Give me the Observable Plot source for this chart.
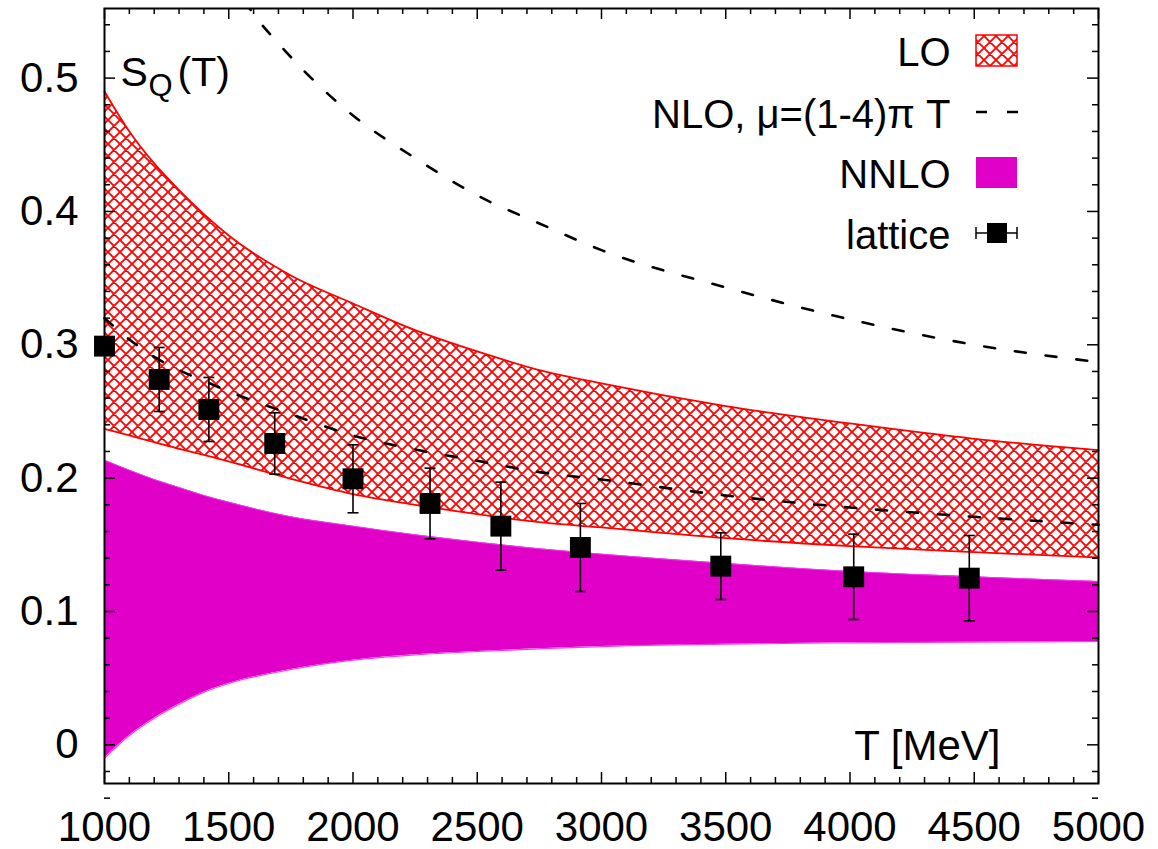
<!DOCTYPE html>
<html>
<head>
<meta charset="utf-8">
<script src="https://cdn.jsdelivr.net/npm/d3@7"></script>
<script src="https://cdn.jsdelivr.net/npm/@observablehq/plot@0.6"></script>
<style>
  html, body { margin: 0; padding: 0; background: white; }
  #chart { width: 1158px; height: 849px; }
</style>
</head>
<body>
<div id="chart"></div>
<script>
// ---------- data ----------
// common T grid (MeV) for the bands and the lower NLO curve
const T_grid   = [1000, 1100, 1200, 1300, 1400, 1500, 1750, 2000, 2250, 2500, 2750, 3000, 3500, 4000, 4500, 5000];
// LO band (hatched red)
const LO_upper = [0.490, 0.460, 0.436, 0.416, 0.398, 0.382, 0.352, 0.331, 0.311, 0.295, 0.281, 0.271, 0.254, 0.241, 0.2295, 0.221];
const LO_lower = [0.237, 0.232, 0.227, 0.222, 0.2175, 0.2125, 0.1995, 0.188, 0.180, 0.173, 0.167, 0.163, 0.155, 0.149, 0.1445, 0.1405];
// NNLO band (magenta)
const NNLO_upper = [0.2135, 0.206, 0.199, 0.193, 0.187, 0.182, 0.171, 0.164, 0.1575, 0.152, 0.147, 0.143, 0.136, 0.130, 0.126, 0.1225];
const NNLO_lower = [-0.010, 0.007, 0.020, 0.0305, 0.0395, 0.046, 0.0565, 0.0635, 0.0675, 0.070, 0.072, 0.0737, 0.0755, 0.0765, 0.077, 0.0775];
// NLO, lower scale curve, on T_grid
const NLO_low = [0.320, 0.304, 0.291, 0.281, 0.273, 0.265, 0.248, 0.232, 0.2215, 0.213, 0.2045, 0.199, 0.187, 0.178, 0.171, 0.165];
// NLO, upper scale curve
const T_NLO_high = [1500, 1600, 1700, 1800, 1900, 2000, 2250, 2500, 2750, 3000, 3500, 4000, 4500, 5000];
const NLO_high   = [0.578, 0.548, 0.526, 0.506, 0.488, 0.472, 0.440, 0.412, 0.391, 0.371, 0.343, 0.319, 0.300, 0.287];
// lattice points
const T_lat   = [1000, 1220, 1420, 1685, 2000, 2310, 2595, 2915, 3480, 4015, 4480];
const S_lat   = [0.299, 0.274, 0.2515, 0.226, 0.1995, 0.181, 0.164, 0.148, 0.134, 0.126, 0.125];
const S_err   = [0.006, 0.024, 0.024, 0.023, 0.0255, 0.0265, 0.033, 0.033, 0.025, 0.032, 0.032];
// ticks
const xMajor = [1000, 1500, 2000, 2500, 3000, 3500, 4000, 4500, 5000];
const xMinor = d3.range(1000, 5001, 100).filter(v => v % 500 !== 0);
const yMajor = [0, 0.1, 0.2, 0.3, 0.4, 0.5];
const yMinor = d3.range(-2, 28).map(i => i * 0.02).filter(v => Math.abs(v * 10 - Math.round(v * 10)) > 1e-6);
// legend
const legendLabels = ["LO", "NLO, \u03bc=(1-4)\u03c0 T", "NNLO", "lattice"];

// ---------- tables ----------
const bands = T_grid.map((T, i) => ({T, loHi: LO_upper[i], loLo: LO_lower[i], nHi: NNLO_upper[i], nLo: NNLO_lower[i], nlo: NLO_low[i]}));
const nloHigh = T_NLO_high.map((T, i) => ({T, s: NLO_high[i]}));
const lattice = T_lat.map((T, i) => ({T, s: S_lat[i], lo: S_lat[i] - S_err[i], hi: S_lat[i] + S_err[i]}));

// ---------- layout ----------
const W = 1158, H = 849, mL = 104, mR = 60, mT = 8, mB = 66;
const pw = W - mL - mR, ph = H - mT - mB;
const RED = "#ff0000", MAG = "#e000c8", MAG_EDGE = "#f23cf0";
const HP = 12; // hatch period in px

const capSymbol = { draw(ctx) { ctx.moveTo(-5.5, 0); ctx.lineTo(5.5, 0); } };

const chart = Plot.plot({
  width: W, height: H,
  marginLeft: mL, marginRight: mR, marginTop: mT, marginBottom: mB,
  style: { fontFamily: "'Liberation Sans', Arial, Helvetica, sans-serif", fontSize: "42px", background: "white", color: "black", overflow: "visible" },
  x: { domain: [1000, 5000] },
  y: { domain: [-0.029, 0.5522] },
  marks: [
    // NNLO band
    Plot.areaY(bands, { x: "T", y1: "nLo", y2: "nHi", fill: MAG, curve: "monotone-x" }),
    Plot.line(bands, { x: "T", y: "nHi", stroke: MAG_EDGE, strokeWidth: 1, curve: "monotone-x" }),
    Plot.line(bands, { x: "T", y: "nLo", stroke: MAG_EDGE, strokeWidth: 1.2, curve: "monotone-x" }),
    // LO band
    Plot.areaY(bands, { x: "T", y1: "loLo", y2: "loHi", fill: "url(#lohatch)", curve: "monotone-x" }),
    Plot.line(bands, { x: "T", y: "loHi", stroke: RED, strokeWidth: 1.8, curve: "monotone-x" }),
    Plot.line(bands, { x: "T", y: "loLo", stroke: RED, strokeWidth: 1.8, curve: "monotone-x" }),
    // NLO curves
    Plot.line(nloHigh, { x: "T", y: "s", stroke: "black", strokeWidth: 2.6, strokeDasharray: "11,20", curve: "monotone-x", clip: true }),
    Plot.line(bands, { x: "T", y: "nlo", stroke: "black", strokeWidth: 2.6, strokeDasharray: "11,20", curve: "monotone-x" }),
    // lattice
    Plot.ruleX(lattice, { x: "T", y1: "lo", y2: "hi", stroke: "black", strokeWidth: 1.6 }),
    Plot.dot(lattice, { x: "T", y: "lo", symbol: capSymbol, r: 4, fill: "none", stroke: "black", strokeWidth: 1.6 }),
    Plot.dot(lattice, { x: "T", y: "hi", symbol: capSymbol, r: 4, fill: "none", stroke: "black", strokeWidth: 1.6 }),
    Plot.dot(lattice, { x: "T", y: "s", symbol: "square", r: 11.8, fill: "black", stroke: "none" }),
    // inward ticks
    Plot.tickY(yMajor, { y: d => d, insetRight: pw - 11, stroke: "black", strokeWidth: 1.5 }),
    Plot.tickY(yMinor, { y: d => d, insetRight: pw - 6, stroke: "black", strokeWidth: 1.5 }),
    Plot.tickY(yMajor, { y: d => d, insetLeft: pw - 11, stroke: "black", strokeWidth: 1.5 }),
    Plot.tickY(yMinor, { y: d => d, insetLeft: pw - 6, stroke: "black", strokeWidth: 1.5 }),
    Plot.tickX(xMajor, { x: d => d, insetTop: ph - 11, stroke: "black", strokeWidth: 1.5 }),
    Plot.tickX(xMinor, { x: d => d, insetTop: ph - 6, stroke: "black", strokeWidth: 1.5 }),
    Plot.tickX(xMajor, { x: d => d, insetBottom: ph - 11, stroke: "black", strokeWidth: 1.5 }),
    Plot.tickX(xMinor, { x: d => d, insetBottom: ph - 6, stroke: "black", strokeWidth: 1.5 }),
    // axes labels
    Plot.axisX(xMajor, { tickSize: 0, tickPadding: 28, fontSize: 42, tickFormat: d => String(d), label: null }),
    Plot.axisY(yMajor, { tickSize: 0, tickPadding: 26, fontSize: 42, tickFormat: d => (d === 0 ? "0" : d.toFixed(1)), label: null }),
    // annotation texts
    Plot.text(["S"], { text: d => d, frameAnchor: "top-left", dx: 16, dy: 77, textAnchor: "start", lineAnchor: "bottom", fontSize: 41 }),
    Plot.text(["Q"], { text: d => d, frameAnchor: "top-left", dx: 44, dy: 87, textAnchor: "start", lineAnchor: "bottom", fontSize: 31 }),
    Plot.text(["(T)"], { text: d => d, frameAnchor: "top-left", dx: 73, dy: 77, textAnchor: "start", lineAnchor: "bottom", fontSize: 41 }),
    Plot.text(["T [MeV]"], { text: d => d, frameAnchor: "bottom-right", dx: -98, dy: -24, textAnchor: "end", lineAnchor: "bottom", fontSize: 42 }),
    // legend labels
    Plot.text([legendLabels[0]], { text: d => d, frameAnchor: "top-right", dx: -148, dy: 57, textAnchor: "end", lineAnchor: "bottom", fontSize: 40 }),
    Plot.text([legendLabels[1]], { text: d => d, frameAnchor: "top-right", dx: -148, dy: 119, textAnchor: "end", lineAnchor: "bottom", fontSize: 40 }),
    Plot.text([legendLabels[2]], { text: d => d, frameAnchor: "top-right", dx: -148, dy: 179, textAnchor: "end", lineAnchor: "bottom", fontSize: 40 }),
    Plot.text([legendLabels[3]], { text: d => d, frameAnchor: "top-right", dx: -148, dy: 240, textAnchor: "end", lineAnchor: "bottom", fontSize: 40 }),
    Plot.frame({ stroke: "black", strokeWidth: 2 })
  ]
});

document.getElementById("chart").appendChild(chart);

// hatch pattern definition (red crosshatch on white)
const svg = d3.select(chart);
const defs = svg.insert("defs", ":first-child");
const h = HP, q = HP / 4;
const pat = defs.append("pattern").attr("id", "lohatch").attr("patternUnits", "userSpaceOnUse").attr("width", h).attr("height", h);
pat.append("rect").attr("width", h).attr("height", h).attr("fill", "white");
pat.append("path")
  .attr("d", `M${-q},${q}l${2*q},${-2*q}M0,${h}l${h},${-h}M${h-q},${h+q}l${2*q},${-2*q}` +
             `M${-q},${h-q}l${2*q},${2*q}M0,0l${h},${h}M${h-q},${-q}l${2*q},${2*q}`)
  .attr("stroke", RED).attr("stroke-width", 1.8).attr("fill", "none");

// legend keys
const kx = W - mR - 122; // 976
const kw = 41;
const g = svg.append("g").attr("class", "legend-keys");
g.append("rect").attr("x", kx).attr("y", 35).attr("width", kw).attr("height", 31)
  .attr("fill", "url(#lohatch)").attr("stroke", RED).attr("stroke-width", 1.5);
g.append("line").attr("x1", kx).attr("x2", kx + kw + 1).attr("y1", 112).attr("y2", 112)
  .attr("stroke", "black").attr("stroke-width", 2.6).attr("stroke-dasharray", "11,20");
g.append("rect").attr("x", kx).attr("y", 157).attr("width", kw).attr("height", 31).attr("fill", MAG);
g.append("line").attr("x1", kx).attr("x2", kx + kw).attr("y1", 233).attr("y2", 233).attr("stroke", "black").attr("stroke-width", 1.5);
g.append("line").attr("x1", kx).attr("x2", kx).attr("y1", 227).attr("y2", 239).attr("stroke", "black").attr("stroke-width", 1.5);
g.append("line").attr("x1", kx + kw).attr("x2", kx + kw).attr("y1", 227).attr("y2", 239).attr("stroke", "black").attr("stroke-width", 1.5);
g.append("rect").attr("x", kx + 11).attr("y", 223).attr("width", 20).attr("height", 20).attr("fill", "black");
</script>
</body>
</html>
